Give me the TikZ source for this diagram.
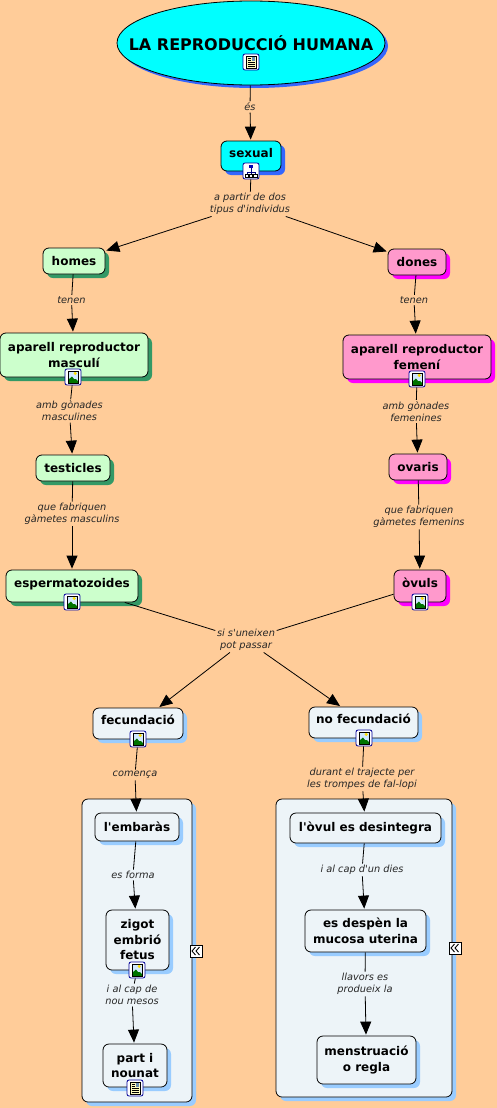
\documentclass[tikz,border=0pt]{standalone}
\usepackage{fontspec}
\setmainfont{DejaVu Sans}
\usepackage{xcolor}
\usepackage{tikz}
\usetikzlibrary{shapes.geometric,shadows,arrows.meta}
\definecolor{cmpaper}{HTML}{FFCC99}
\definecolor{cmcyan}{HTML}{00FFFF}
\definecolor{cmblue}{HTML}{3366FF}
\definecolor{cmgreen}{HTML}{CCFFCC}
\definecolor{cmdkgreen}{HTML}{339966}
\definecolor{cmpink}{HTML}{FF99CC}
\definecolor{cmmagenta}{HTML}{FF00FF}
\definecolor{cmpale}{HTML}{EDF4F8}
\definecolor{cmsky}{HTML}{99CCFF}
\tikzset{
  cmbase/.style={rectangle, rounded corners=6pt, draw=black, line width=0.8pt, align=center,
    inner sep=0pt, font=\fontsize{12}{15.5}\selectfont\bfseries},
  cmcyannode/.style={cmbase, fill=cmcyan, general shadow={shadow xshift=4pt, shadow yshift=-4pt, fill=cmblue}},
  cmgreennode/.style={cmbase, fill=cmgreen, general shadow={shadow xshift=4pt, shadow yshift=-4pt, fill=cmdkgreen}},
  cmpinknode/.style={cmbase, fill=cmpink, general shadow={shadow xshift=4pt, shadow yshift=-4pt, fill=cmmagenta}},
  cmpalenode/.style={cmbase, fill=cmpale, general shadow={shadow xshift=4pt, shadow yshift=-4pt, fill=cmsky}},
  cmgroup/.style={cmpalenode},
  cmraised/.style={text depth=7pt},
  cmlabel/.style={align=center, inner sep=1.5pt, yshift=-1pt, text=black!85, font=\fontsize{9.8}{12}\selectfont\itshape},
  cmline/.style={line width=0.8pt, draw=black},
  cmarrow/.style={cmline, -{Triangle[width=11pt,length=13pt]}, shorten >=1pt},
  cmicon/.style={rectangle, rounded corners=2pt, draw=blue!60!black, fill=white, line width=0.8pt,
    minimum size=16pt, inner sep=0pt},
  cmfold/.style={rectangle, draw=black, fill=white, line width=0.8pt, minimum size=12pt, inner sep=0pt},
  imgicon/.pic={
    \fill[cmsky!45!white] (-5,-6) rectangle (5,6);
    \fill[yellow!80!orange] (2.2,-3.6) circle (1.7);
    \fill[green!45!black] (-5,6) -- (-5,3) -- (-1,-0.5) -- (1,2) -- (3,2) -- (5,4) -- (5,6) -- cycle;
    \draw[black, line width=0.7pt] (-5,-6) rectangle (5,6);
  },
  docicon/.pic={
    \fill[yellow!25!white] (-5,-6) rectangle (5,6);
    \fill[cmsky!70!black] (0.5,-5) rectangle (4,-1);
    \draw[black, line width=0.6pt] (-3.5,-3.5) -- (-0.5,-3.5) (-3.5,-1.5) -- (-0.5,-1.5)
      (-3.5,0.5) -- (3.5,0.5) (-3.5,2.5) -- (3.5,2.5) (-3.5,4.5) -- (3.5,4.5);
    \draw[black, line width=0.7pt] (-5,-6) rectangle (5,6);
  },
  orgicon/.pic={
    \draw[blue!50!black, line width=0.9pt] (0,-3) -- (0,4) (-4,1) -- (4,1) (-4,1) -- (-4,3) (4,1) -- (4,3);
    \fill[blue!70!black] (-2,-6) rectangle (2,-3);
    \filldraw[fill=white, draw=black, line width=0.6pt] (-6,3) rectangle (-2.5,6);
    \filldraw[fill=white, draw=black, line width=0.6pt] (2.5,3) rectangle (6,6);
    \filldraw[fill=white, draw=black, line width=0.6pt] (-1.5,3) rectangle (1.5,6);
  },
  foldicon/.pic={
    \draw[black, line width=0.9pt] (-0.5,-4) -- (-4,0) -- (-0.5,4) (3.5,-4) -- (0,0) -- (3.5,4);
  },
}
\begin{document}
\begin{tikzpicture}[x=1pt,y=-1pt]
\useasboundingbox[fill=cmpaper] (0,0) rectangle (497,1108);
% groups
\node[cmgroup, minimum width=110pt, minimum height=303pt] (groupleft) at (137,950.5) {};
\node[cmgroup, minimum width=176pt, minimum height=298pt] (groupright) at (364,948) {};
% concepts
\node[ellipse, draw=black, line width=0.8pt, fill=cmcyan, inner sep=0pt, minimum width=268pt, minimum height=84pt,
  general shadow={shadow xshift=3pt, shadow yshift=-3pt, fill=cmblue},
  font=\fontsize{16}{19}\selectfont\bfseries] (title) at (251,43) {\makebox[0pt]{LA REPRODUCCIÓ HUMANA}};
\node[cmcyannode, cmraised, minimum width=60pt, minimum height=30pt] (sexual) at (251,156) {sexual};
\node[cmgreennode, minimum width=62pt, minimum height=26pt] (homes) at (74,261) {homes};
\node[cmpinknode, minimum width=58pt, minimum height=26pt] (dones) at (417,262) {dones};
\node[cmgreennode, minimum width=148pt, minimum height=44pt] (masculi) at (74,355) {aparell reproductor\\masculí};
\node[cmpinknode, minimum width=148pt, minimum height=44pt] (femeni) at (417,357) {aparell reproductor\\femení};
\node[cmgreennode, minimum width=74pt, minimum height=26pt] (testicles) at (73,468) {testicles};
\node[cmpinknode, minimum width=58pt, minimum height=26pt] (ovaris) at (418,467) {ovaris};
\node[cmgreennode, cmraised, minimum width=132pt, minimum height=32pt] (esperma) at (72,586) {espermatozoides};
\node[cmpinknode, cmraised, minimum width=52pt, minimum height=32pt] (ovuls) at (420,586) {òvuls};
\node[cmpalenode, cmraised, minimum width=90pt, minimum height=31pt] (fecund) at (138,723.5) {fecundació};
\node[cmpalenode, cmraised, minimum width=109pt, minimum height=31pt] (nofecund) at (363.5,722.5) {no fecundació};
\node[cmpalenode, minimum width=84pt, minimum height=28pt] (embaras) at (137,827) {l\textquotesingle embaràs};
\node[cmpalenode, minimum width=63pt, minimum height=60pt] (zigot) at (137.5,940) {zigot\\embrió\\fetus};
\node[cmpalenode, minimum width=64pt, minimum height=43pt] (part) at (135,1065.5) {part i\\nounat};
\node[cmpalenode, minimum width=151pt, minimum height=30pt] (ovul) at (365.5,828) {l\textquotesingle òvul es desintegra};
\node[cmpalenode, minimum width=121pt, minimum height=42pt] (despen) at (365.5,931) {es despèn la\\mucosa uterina};
\node[cmpalenode, minimum width=99pt, minimum height=48pt] (regla) at (366.5,1060) {menstruació\\o regla};
% icons
\node[cmicon] (titleicon) at (251,62) {}; \pic at (titleicon) {docicon};
\node[cmicon] (sexualicon) at (251,171) {}; \pic at (sexualicon) {orgicon};
\node[cmicon] (masculiicon) at (73,377) {}; \pic at (masculiicon) {imgicon};
\node[cmicon] (femeniicon) at (417,379) {}; \pic at (femeniicon) {imgicon};
\node[cmicon] (espermaicon) at (72,602) {}; \pic at (espermaicon) {imgicon};
\node[cmicon] (ovulsicon) at (420,602) {}; \pic at (ovulsicon) {imgicon};
\node[cmicon] (fecundicon) at (138,739) {}; \pic at (fecundicon) {imgicon};
\node[cmicon] (nofecundicon) at (364,738) {}; \pic at (nofecundicon) {imgicon};
\node[cmicon] (zigoticon) at (137,970) {}; \pic at (zigoticon) {imgicon};
\node[cmicon] (particon) at (135,1088) {}; \pic at (particon) {docicon};
\node[cmfold] (foldleft) at (196,951) {}; \pic at (foldleft) {foldicon};
\node[cmfold] (foldright) at (455,948) {}; \pic at (foldright) {foldicon};
% linking phrases
\node[cmlabel] (es) at (250,106) {és};
\node[cmlabel] (dos) at (250,203) {a partir de dos\\tipus d\textquotesingle individus};
\node[cmlabel] (htenen) at (71.5,299) {tenen};
\node[cmlabel] (dtenen) at (414,299) {tenen};
\node[cmlabel] (masgon) at (69.5,410) {amb gònades\\masculines};
\node[cmlabel] (femgon) at (416,410.5) {amb gònades\\femenines};
\node[cmlabel] (masgam) at (72,513) {que fabriquen\\gàmetes masculins};
\node[cmlabel] (femgam) at (419,516) {que fabriquen\\gàmetes femenins};
\node[cmlabel] (uneixen) at (246,639) {si s\textquotesingle uneixen\\pot passar};
\node[cmlabel] (comenca) at (135,774) {comença};
\node[cmlabel] (trajecte) at (362,778) {durant el trajecte per\\les trompes de fal-lopi};
\node[cmlabel] (forma) at (133,874) {es forma};
\node[cmlabel] (mesos) at (132,994) {i al cap de\\nou mesos};
\node[cmlabel] (dies) at (362,869) {i al cap d\textquotesingle un dies};
\node[cmlabel] (llavors) at (365,983) {llavors es\\produeix la};
% connectors
\draw[cmline] (title) -- (es);
\draw[cmarrow] (es) -- (sexual);
\draw[cmline] (sexualicon) -- (dos);
\draw[cmarrow] (dos) -- (homes);
\draw[cmarrow] (dos) -- (dones);
\draw[cmline] (homes) -- (htenen);
\draw[cmarrow] (htenen) -- (masculi);
\draw[cmline] (dones) -- (dtenen);
\draw[cmarrow] (dtenen) -- (femeni);
\draw[cmline] (masculiicon) -- (masgon);
\draw[cmarrow] (masgon) -- (testicles);
\draw[cmline] (femeniicon) -- (femgon);
\draw[cmarrow] (femgon) -- (ovaris);
\draw[cmline] (testicles) -- (masgam);
\draw[cmarrow] (masgam) -- (esperma);
\draw[cmline] (ovaris) -- (femgam);
\draw[cmarrow] (femgam) -- (ovuls);
\draw[cmline] (esperma) -- (uneixen);
\draw[cmline] (ovuls) -- (uneixen);
\draw[cmarrow] (uneixen) -- (fecund);
\draw[cmarrow] (uneixen) -- (nofecund);
\draw[cmline] (fecundicon) -- (comenca);
\draw[cmarrow] (comenca) -- (embaras);
\draw[cmline] (nofecundicon) -- (trajecte);
\draw[cmarrow] (trajecte) -- (ovul);
\draw[cmline] (embaras) -- (forma);
\draw[cmarrow] (forma) -- (zigot);
\draw[cmline] (zigoticon) -- (mesos);
\draw[cmarrow] (mesos) -- (part);
\draw[cmline] (ovul) -- (dies);
\draw[cmarrow] (dies) -- (despen);
\draw[cmline] (despen) -- (llavors);
\draw[cmarrow] (llavors) -- (regla);
\end{tikzpicture}
\end{document}
